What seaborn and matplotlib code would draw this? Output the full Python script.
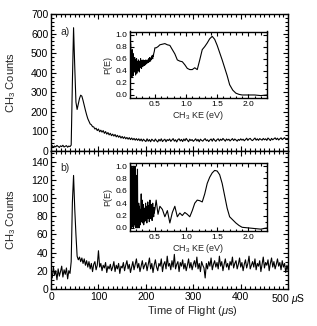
import numpy as np
import matplotlib
matplotlib.use("Agg")
import matplotlib.pyplot as plt
from matplotlib.ticker import MultipleLocator
import seaborn as sns

# time of flight traces, sampled every 2.5 us from 0 to 500 us
tof_step = 2.5
counts_a = [
    22, 27, 19, 25, 21, 28, 23, 18, 26, 22,
    29, 20, 24, 27, 19, 25, 22, 30, 350, 630,
    430, 250, 212, 240, 268, 285, 280, 258, 232, 208,
    185, 165, 152, 138, 134, 124, 123, 112, 116, 104,
    112, 98, 106, 96, 104, 90, 99, 86, 94, 82,
    90, 78, 86, 76, 84, 72, 80, 70, 77, 66,
    74, 64, 72, 62, 69, 60, 68, 58, 66, 57,
    64, 55, 63, 54, 62, 52, 61, 50, 60, 53,
    48, 62, 50, 58, 47, 60, 54, 49, 61, 52,
    46, 59, 51, 62, 48, 55, 60, 47, 58, 53,
    61, 49, 56, 63, 50, 57, 46, 58, 62, 51,
    59, 48, 61, 52, 64, 55, 47, 60, 53, 58,
    49, 55, 62, 51, 59, 47, 60, 54, 50, 58,
    63, 52, 57, 48, 56, 61, 50, 63, 55, 49,
    58, 62, 51, 60, 54, 64, 57, 50, 61, 55,
    60, 51, 57, 63, 53, 61, 56, 50, 59, 54,
    62, 55, 60, 52, 58, 65, 54, 61, 64, 56,
    53, 60, 66, 55, 62, 54, 63, 59, 55, 64,
    57, 62, 54, 66, 60, 53, 64, 57, 62, 67,
    58, 65, 56, 62, 67, 58, 63, 68, 59, 64,
    62,
]
counts_b = [
    18, 12, 24, 15, 20, 10, 22, 14, 19, 25,
    13, 21, 16, 23, 11, 20, 17, 30, 95, 125,
    88, 60, 36, 32, 35, 30, 34, 28, 33, 26,
    31, 24, 30, 22, 28, 19, 27, 30, 21, 26,
    42, 24, 28, 20, 26, 23, 29, 18, 25, 22,
    27, 20, 24, 30, 19, 26, 22, 28, 17, 25,
    23, 29, 20, 26, 31, 22, 27, 18, 24, 30,
    21, 27, 33, 23, 28, 19, 25, 31, 22, 26,
    29, 20, 27, 34, 22, 28, 18, 26, 32, 24,
    20, 28, 25, 33, 19, 27, 30, 22, 36, 25,
    28, 21, 31, 24, 38, 22, 27, 30, 19, 29,
    25, 32, 22, 28, 20, 26, 33, 23, 29, 21,
    27, 31, 24, 35, 22, 28, 19, 30, 26, 23,
    12, 28, 22, 30, 25, 34, 21, 27, 31, 24,
    29, 22, 36, 25, 30, 20, 27, 33, 24, 28,
    21, 30, 26, 35, 23, 28, 31, 22, 27, 34,
    24, 29, 20, 27, 32, 23, 28, 36, 22, 26,
    30, 24, 33, 21, 28, 25, 31, 19, 27, 35,
    23, 29, 26, 32, 20, 28, 34, 24, 30, 22,
    27, 33, 25, 29, 21, 31, 24, 28, 18, 26,
    20,
]

# P(E) insets: noisy low-energy part (0.10 - 0.50 eV) then the smoother part
pe_a_noisy = [
    1.0, 0.45, 0.85, 0.35, 0.7, 0.5, 0.3, 0.75, 0.4, 0.6,
    0.32, 0.68, 0.45, 0.55, 0.38, 0.62, 0.42, 0.58, 0.33, 0.52,
    0.47, 0.6, 0.36, 0.55, 0.44, 0.5, 0.4, 0.58, 0.46, 0.53,
    0.38, 0.56, 0.5, 0.45, 0.6, 0.48, 0.52, 0.44, 0.57, 0.5,
    0.55, 0.47, 0.58, 0.52, 0.5, 0.56, 0.49, 0.57, 0.53, 0.55,
    0.5, 0.58, 0.54, 0.52, 0.57, 0.55, 0.53, 0.58, 0.56, 0.54,
    0.6, 0.57, 0.55, 0.62, 0.58, 0.6, 0.56, 0.61, 0.59, 0.63,
    0.6, 0.65, 0.62, 0.6, 0.66, 0.64, 0.68, 0.7, 0.72, 0.75,
    0.78,
]
ke_a_smooth = [0.52, 0.55, 0.58, 0.62, 0.66, 0.70, 0.74, 0.78, 0.82, 0.86,
               0.90, 0.94, 0.98, 1.02, 1.06, 1.10, 1.14, 1.18, 1.22, 1.26,
               1.30, 1.34, 1.38, 1.42, 1.46, 1.50, 1.54, 1.58, 1.62, 1.66,
               1.70, 1.75, 1.80, 1.85, 1.90, 2.00, 2.10, 2.20, 2.30]
pe_a_smooth = [0.78, 0.80, 0.83, 0.84, 0.85, 0.83, 0.82, 0.75, 0.68, 0.58,
               0.56, 0.55, 0.50, 0.44, 0.42, 0.42, 0.45, 0.42, 0.58, 0.75,
               0.80, 0.86, 0.93, 0.97, 0.92, 0.82, 0.70, 0.58, 0.45, 0.32,
               0.17, 0.08, 0.03, 0.01, 0.0, 0.0, 0.0, -0.01, 0.0]

pe_b_noisy = [
    1.0, 0.05, 0.9, 0.0, 1.0, 0.1, 0.8, 0.02, 0.95, 0.15,
    1.0, 0.0, 0.7, 0.05, 0.9, 0.1, 1.0, 0.02, 0.6, 0.0,
    0.85, 0.08, 0.5, 0.0, 0.95, 0.1, 0.3, 0.05, 0.4, 0.0,
    0.35, 0.15, 0.25, 0.05, 0.3, 0.12, 0.55, 0.1, 0.2, 0.45,
    0.08, 0.3, 0.15, 0.38, 0.05, 0.25, 0.32, 0.1, 0.28, 0.18,
    0.4, 0.12, 0.22, 0.35, 0.08, 0.3, 0.2, 0.42, 0.15, 0.25,
    0.18, 0.36, 0.1, 0.28, 0.45, 0.2, 0.3, 0.15, 0.38, 0.22,
    0.32, 0.12, 0.26, 0.4, 0.2, 0.3, 0.18, 0.33, 0.24, 0.28,
    0.3,
]
ke_b_smooth = [0.52, 0.55, 0.58, 0.62, 0.66, 0.70, 0.74, 0.78, 0.82, 0.86,
               0.90, 0.94, 0.98, 1.02, 1.06, 1.10, 1.14, 1.18, 1.22, 1.26,
               1.30, 1.34, 1.38, 1.42, 1.46, 1.50, 1.54, 1.58, 1.62, 1.66,
               1.70, 1.75, 1.80, 1.85, 1.90, 2.00, 2.10, 2.20, 2.30]
pe_b_smooth = [0.45, 0.22, 0.35, 0.30, 0.18, 0.28, 0.08, 0.25, 0.35, 0.18,
               0.24, 0.20, 0.25, 0.22, 0.18, 0.28, 0.40, 0.45, 0.44, 0.42,
               0.55, 0.72, 0.82, 0.89, 0.93, 0.92, 0.86, 0.72, 0.52, 0.32,
               0.18, 0.13, 0.08, 0.04, 0.01, 0.0, -0.01, -0.02, 0.0]

sns.set_style("ticks")
plt.rcParams['font.family'] = ['Liberation Sans', 'DejaVu Sans']
plt.rcParams['mathtext.fontset'] = 'custom'
plt.rcParams['mathtext.rm'] = 'Liberation Sans'
plt.rcParams['mathtext.it'] = 'Liberation Sans:italic'


def style_ticks(ax, size, major=3.5, minor=2):
    ax.tick_params(which='both', direction='in', top=True, right=True,
                   width=0.8, labelsize=size, pad=2, colors='black')
    ax.tick_params(which='major', length=major)
    ax.tick_params(which='minor', length=minor)
    for sp in ax.spines.values():
        sp.set_linewidth(1.0)
        sp.set_color('black')


fig = plt.figure(figsize=(3.17, 3.26), dpi=100)
ax_a = fig.add_axes([0.161, 0.537, 0.748, 0.420])
ax_b = fig.add_axes([0.161, 0.114, 0.748, 0.423])

tof_a = np.arange(len(counts_a)) * tof_step
tof_b = np.arange(len(counts_b)) * tof_step
sns.lineplot(x=tof_a, y=counts_a, ax=ax_a, color='black', linewidth=0.8)
sns.lineplot(x=tof_b, y=counts_b, ax=ax_b, color='black', linewidth=0.8)

ax_a.set_xlim(0, 500)
ax_a.set_ylim(0, 700)
ax_a.yaxis.set_major_locator(MultipleLocator(100))
ax_a.yaxis.set_minor_locator(MultipleLocator(20))
ax_a.xaxis.set_major_locator(MultipleLocator(100))
ax_a.xaxis.set_minor_locator(MultipleLocator(10))
ax_a.set_xticklabels([])
style_ticks(ax_a, 7.5)
ax_a.set_ylabel('CH$_3$ Counts', fontsize=8)
ax_a.yaxis.set_label_coords(-0.14, 0.5)
ax_a.text(0.04, 0.85, 'a)', transform=ax_a.transAxes, fontsize=7.5)

ax_b.set_xlim(0, 500)
ax_b.set_ylim(0, 152)
ax_b.yaxis.set_major_locator(MultipleLocator(20))
ax_b.yaxis.set_minor_locator(MultipleLocator(5))
ax_b.xaxis.set_major_locator(MultipleLocator(100))
ax_b.xaxis.set_minor_locator(MultipleLocator(10))
ax_b.set_xticks([0, 100, 200, 300, 400, 500])
ax_b.set_xticklabels(['0', '100', '200', '300', '400', '500 $\\mu$S'])
style_ticks(ax_b, 7.5)
ax_b.set_ylabel('CH$_3$ Counts', fontsize=8)
ax_b.yaxis.set_label_coords(-0.14, 0.5)
ax_b.set_xlabel('Time of Flight ($\\mu$s)', fontsize=8)
ax_b.xaxis.set_label_coords(0.595, -0.11)
ax_b.text(0.04, 0.855, 'b)', transform=ax_b.transAxes, fontsize=7.5)

# insets
in_a = fig.add_axes([130 / 317, 1 - 98 / 326, 137 / 317, 66.5 / 326])
in_b = fig.add_axes([130 / 317, 1 - 231 / 326, 137 / 317, 68 / 326])

for ax, noisy, ke_s, pe_s in [(in_a, pe_a_noisy, ke_a_smooth, pe_a_smooth),
                              (in_b, pe_b_noisy, ke_b_smooth, pe_b_smooth)]:
    ke = np.concatenate([np.linspace(0.10, 0.50, len(noisy)), ke_s])
    pe = np.concatenate([noisy, pe_s])
    sns.lineplot(x=ke, y=pe, ax=ax, color='black', linewidth=0.8)
    ax.set_xlim(0.1, 2.3)
    ax.set_ylim(-0.05, 1.05)
    ax.xaxis.set_major_locator(MultipleLocator(0.5))
    ax.xaxis.set_minor_locator(MultipleLocator(0.1))
    ax.yaxis.set_major_locator(MultipleLocator(0.2))
    ax.yaxis.set_minor_locator(MultipleLocator(0.1))
    ax.set_xticks([0.5, 1.0, 1.5, 2.0])
    ax.set_xticklabels(['0.5', '1.0', '1.5', '2.0'])
    ax.set_yticks([0.0, 0.2, 0.4, 0.6, 0.8, 1.0])
    ax.set_yticklabels(['0.0', '0.2', '0.4', '0.6', '0.8', '1.0'])
    style_ticks(ax, 6, major=3, minor=1.8)
    ax.set_ylabel('P(E)', fontsize=6.5, labelpad=2)
    ax.set_xlabel('CH$_3$ KE (eV)', fontsize=6.5, labelpad=1)

fig.savefig('out.png', dpi=100)
